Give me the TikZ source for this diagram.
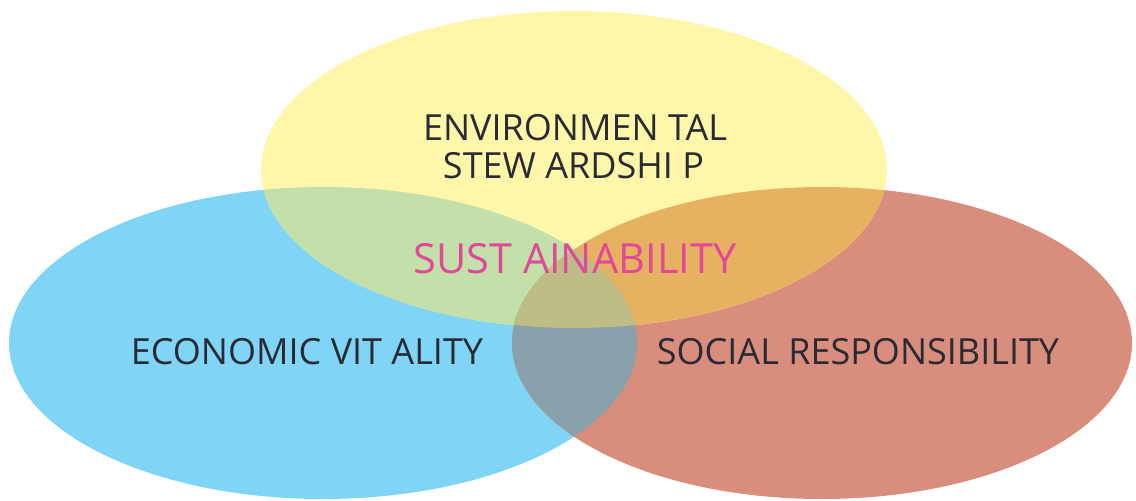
\documentclass[tikz,border=0pt]{standalone}
\usepackage{fontspec}
\setmainfont{Open Sans}
\definecolor{cyel}{HTML}{FEF6A8}
\definecolor{cblu}{HTML}{80D5F7}
\definecolor{cred}{HTML}{D98D7D}
\definecolor{cgrn}{HTML}{C3DFAA}
\definecolor{cora}{HTML}{E6B262}
\definecolor{cgry}{HTML}{89A1AA}
\definecolor{cmid}{HTML}{BDBD85}
\definecolor{ctxt}{HTML}{2A2A35}
\definecolor{cpink}{HTML}{E0489A}
\tikzset{
  lbl/.style={anchor=base, inner sep=0pt, text=ctxt, font=\fontsize{36}{39}\selectfont},
  title/.style={anchor=base, inner sep=0pt, text=cpink, font=\fontsize{41.5}{44}\selectfont}
}
\begin{document}
\begin{tikzpicture}[x=1pt,y=-1pt]
\useasboundingbox (0,0) rectangle (1136,501);
\def\Ypath{(574,169.5) ellipse [x radius=313, y radius=158.5]}
\def\Bpath{(323,343) ellipse [x radius=314, y radius=156]}
\def\Rpath{(822,343) ellipse [x radius=310, y radius=156]}
\fill[cblu] \Bpath;
\fill[cred] \Rpath;
\fill[cyel] \Ypath;
\begin{scope}\clip \Bpath; \fill[cgrn] \Ypath; \end{scope}
\begin{scope}\clip \Rpath; \fill[cora] \Ypath; \end{scope}
\begin{scope}\clip \Bpath; \fill[cgry] \Rpath; \end{scope}
\begin{scope}\clip \Bpath; \clip \Rpath; \fill[cmid] \Ypath; \end{scope}
\node[lbl] (env1) at (575,140) {ENVIRONMEN TAL};
\node[lbl] (env2) at (573.5,178) {STEW ARDSHI P};
\node[title] (sus) at (575,273) {SUST AINABILITY};
\node[lbl] (eco) at (307,364) {ECONOMIC VIT ALITY};
\node[lbl] (soc) at (858,364) {SOCIAL RESPONSIBILITY};
\end{tikzpicture}
\end{document}
